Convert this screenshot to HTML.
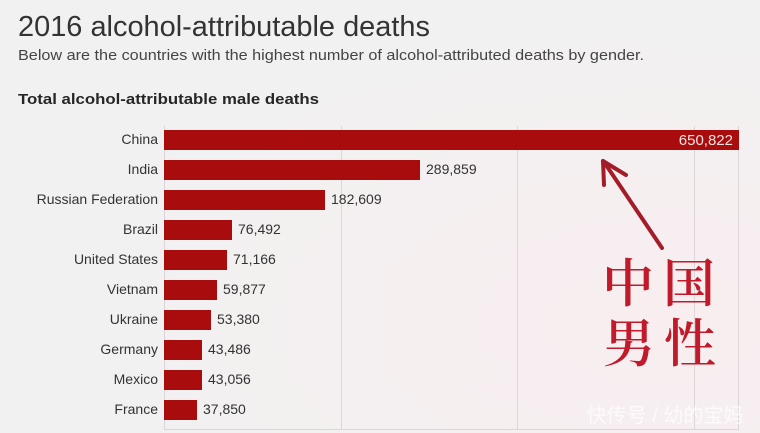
<!DOCTYPE html>
<html><head><meta charset="utf-8"><style>
html,body{margin:0;padding:0;}
body{width:760px;height:433px;overflow:hidden;background:#f1f1f1;}
svg{display:block;}
</style></head><body>
<svg width="760" height="433" viewBox="0 0 760 433" xmlns="http://www.w3.org/2000/svg">
<defs>
<radialGradient id="bg" cx="0.85" cy="0.75" r="0.7">
<stop offset="0" stop-color="#f8eef0"/>
<stop offset="0.6" stop-color="#f4eff0"/>
<stop offset="1" stop-color="#f1f1f1"/>
</radialGradient>
</defs>
<rect x="0" y="0" width="760" height="433" fill="url(#bg)"/>
<g font-family="Liberation Sans, Arial, sans-serif">
<text x="18" y="36" font-size="29" fill="#333" textLength="412" lengthAdjust="spacingAndGlyphs">2016 alcohol-attributable deaths</text>
<text x="18" y="60" font-size="15" fill="#444" textLength="626" lengthAdjust="spacingAndGlyphs">Below are the countries with the highest number of alcohol-attributed deaths by gender.</text>
<text x="18" y="104" font-size="15" font-weight="bold" fill="#262626" textLength="301" lengthAdjust="spacingAndGlyphs">Total alcohol-attributable male deaths</text>
</g>
<!-- grid -->
<g stroke="#dcd6d8" stroke-width="1">
<line x1="164.5" y1="126" x2="164.5" y2="429"/>
<line x1="341.5" y1="126" x2="341.5" y2="429"/>
<line x1="517.5" y1="126" x2="517.5" y2="429"/>
<line x1="694.5" y1="126" x2="694.5" y2="429"/>
<line x1="738.5" y1="126" x2="738.5" y2="429"/>
<line x1="164" y1="429.5" x2="739" y2="429.5"/>
</g>
<!-- bars -->
<g fill="#a90c0c">
<rect x="164" y="130" width="575" height="20"/>
<rect x="164" y="160" width="256" height="20"/>
<rect x="164" y="190" width="161" height="20"/>
<rect x="164" y="220" width="68" height="20"/>
<rect x="164" y="250" width="63" height="20"/>
<rect x="164" y="280" width="53" height="20"/>
<rect x="164" y="310" width="47" height="20"/>
<rect x="164" y="340" width="38" height="20"/>
<rect x="164" y="370" width="38" height="20"/>
<rect x="164" y="400" width="33" height="20"/>
</g>
<g font-family="Liberation Sans, Arial, sans-serif" font-size="14" fill="#333" text-anchor="end">
<text x="158" y="144">China</text>
<text x="158" y="174">India</text>
<text x="158" y="204">Russian Federation</text>
<text x="158" y="234">Brazil</text>
<text x="158" y="264">United States</text>
<text x="158" y="294">Vietnam</text>
<text x="158" y="324">Ukraine</text>
<text x="158" y="354">Germany</text>
<text x="158" y="384">Mexico</text>
<text x="158" y="414">France</text>
</g>
<g font-family="Liberation Sans, Arial, sans-serif" font-size="14" fill="#333">
<text x="733" y="145" fill="#f6e4e4" text-anchor="end" font-size="15">650,822</text>
<text x="426" y="174">289,859</text>
<text x="331" y="204">182,609</text>
<text x="238" y="234">76,492</text>
<text x="233" y="264">71,166</text>
<text x="223" y="294">59,877</text>
<text x="217" y="324">53,380</text>
<text x="208" y="354">43,486</text>
<text x="208" y="384">43,056</text>
<text x="203" y="414">37,850</text>
</g>
<!-- arrow -->
<g stroke="#a31c2a" stroke-width="4" stroke-linecap="round" fill="none">
<line x1="662" y1="248" x2="604" y2="162"/>
<line x1="603" y1="161" x2="604" y2="185"/>
<line x1="603" y1="161" x2="626" y2="175"/>
</g>
<!-- chinese annotation -->
<g font-family="Noto Serif CJK SC, serif" font-size="52" font-weight="600" fill="#c11a2b" text-anchor="middle">
<text x="628" y="302">中</text>
<text x="689" y="302">国</text>
<text x="629" y="362">男</text>
<text x="690" y="362">性</text>
</g>
<text x="665" y="422" font-family="Liberation Sans, Noto Sans CJK SC, sans-serif" font-size="20" fill="#ffffff" fill-opacity="0.7" text-anchor="middle">快传号 / 幼的宝妈</text>
</svg>
</body></html>
